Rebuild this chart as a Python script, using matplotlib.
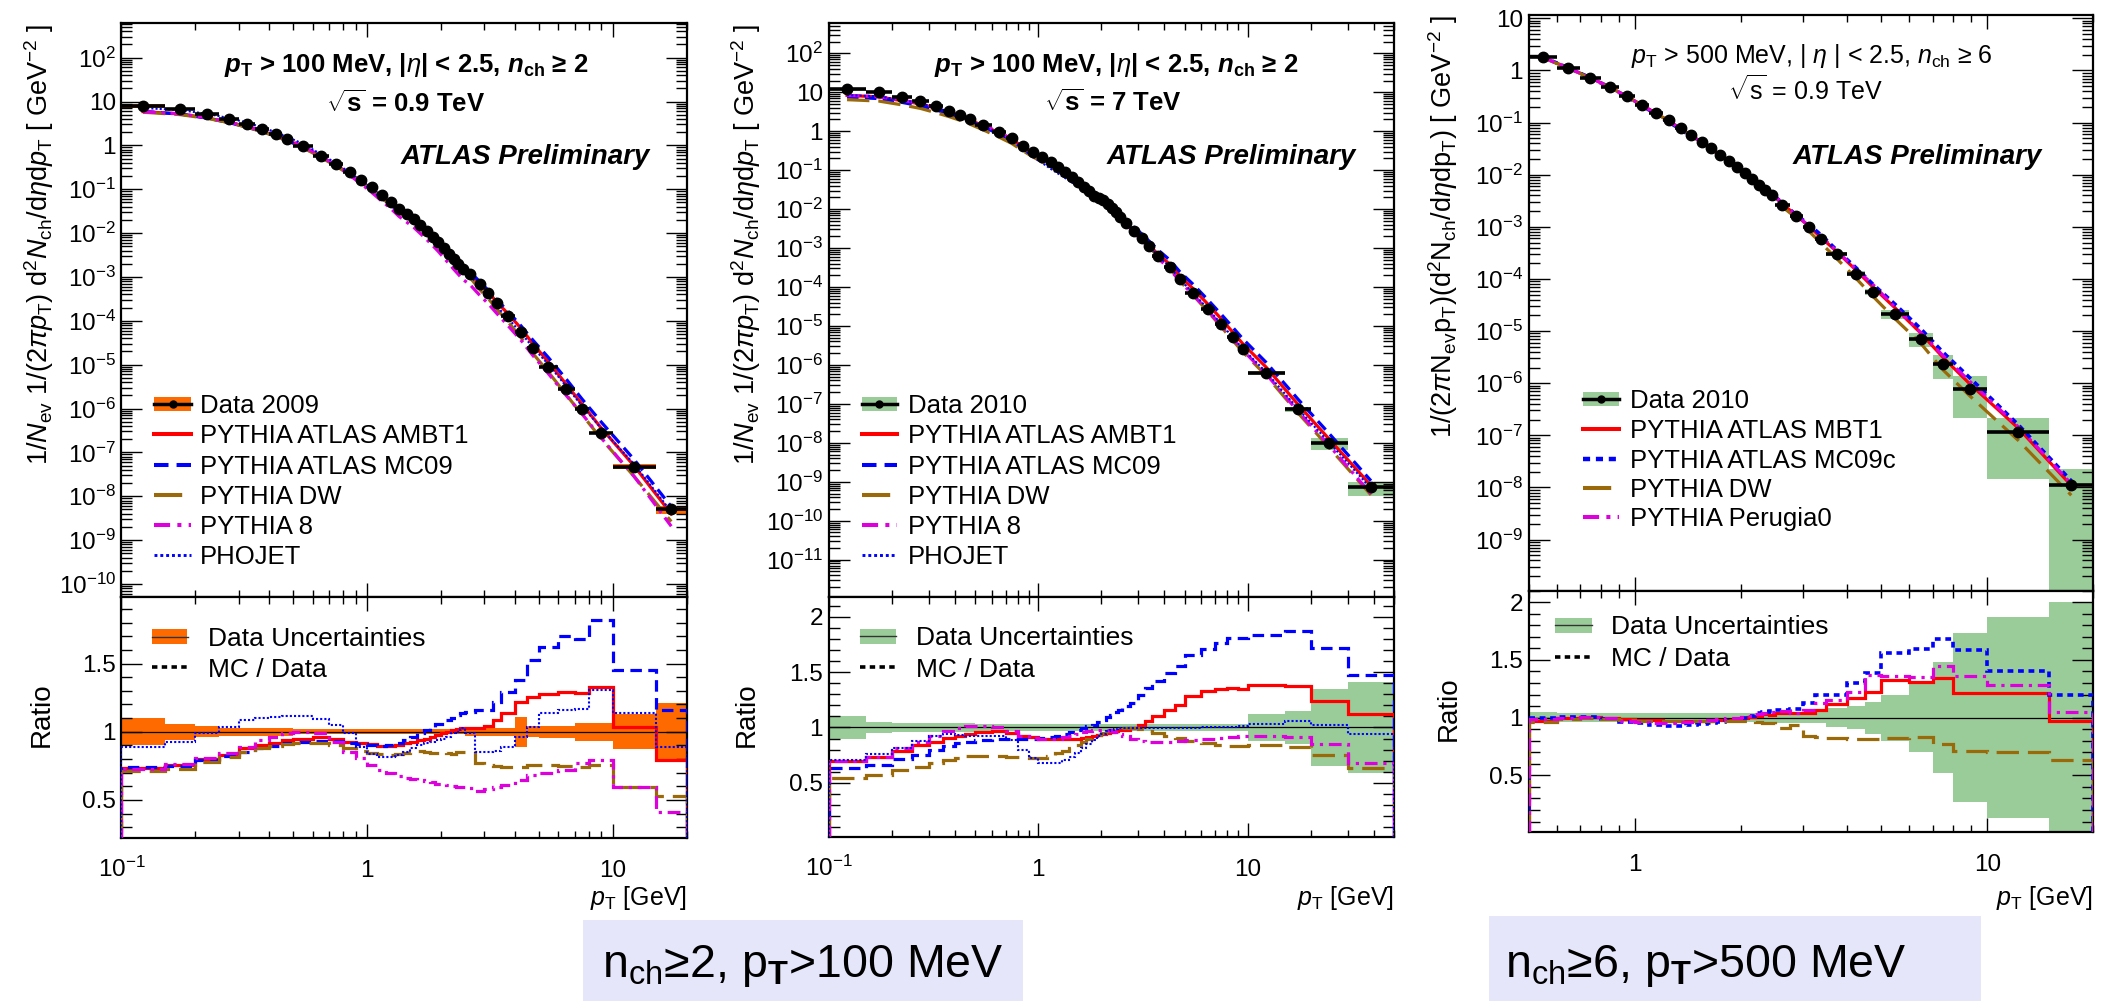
import numpy as np
import matplotlib
matplotlib.use('Agg')
import matplotlib.pyplot as plt
from matplotlib.lines import Line2D
from matplotlib.patches import Rectangle
from matplotlib.ticker import LogLocator, FixedLocator, MultipleLocator, FuncFormatter, NullFormatter

W, H = 2101, 1001

plt.rcParams['font.family'] = ['Liberation Sans', 'DejaVu Sans']
plt.rcParams['mathtext.fontset'] = 'custom'
plt.rcParams['mathtext.rm'] = 'Liberation Sans'
plt.rcParams['mathtext.it'] = 'Liberation Sans:italic'
plt.rcParams['mathtext.bf'] = 'Liberation Sans:bold'
plt.rcParams['mathtext.bfit'] = 'Liberation Sans:bold:italic'
plt.rcParams['mathtext.sf'] = 'Liberation Sans'

# ---------------- pT bin edges [GeV] ----------------
edges_100 = [0.10, 0.15, 0.20, 0.25, 0.30, 0.35, 0.40, 0.45, 0.50,
             0.6, 0.7, 0.8, 0.9, 1.0, 1.1, 1.2, 1.3, 1.4, 1.5, 1.6, 1.7,
             1.8, 1.9, 2.0, 2.1, 2.2, 2.3, 2.4, 2.5,
             2.75, 3.0, 3.25, 3.5, 4.0, 4.5, 5.0, 6.0, 7.0, 8.0, 10.0, 15.0, 20.0]
edges_7tev = [0.10, 0.15, 0.20, 0.25, 0.30, 0.35, 0.40, 0.45, 0.50,
              0.6, 0.7, 0.8, 0.9, 1.0, 1.1, 1.2, 1.3, 1.4, 1.5, 1.6, 1.7,
              1.8, 1.9, 2.0, 2.1, 2.2, 2.3, 2.4, 2.5,
              2.75, 3.0, 3.25, 3.5, 4.0, 4.5, 5.0, 6.0, 7.0, 8.0, 9.0, 10.0,
              15.0, 20.0, 30.0, 50.0]
edges_500 = [0.5, 0.6, 0.7, 0.8, 0.9, 1.0, 1.1, 1.2, 1.3, 1.4, 1.5, 1.6, 1.7,
             1.8, 1.9, 2.0, 2.1, 2.2, 2.3, 2.4, 2.5,
             2.75, 3.0, 3.25, 3.5, 4.0, 4.5, 5.0, 6.0, 7.0, 8.0, 10.0, 15.0, 20.0]

# ---------------- 0.9 TeV, pT > 100 MeV, nch >= 2 ----------------
data_09 = [8.0, 6.9, 5.3, 4.05, 3.06, 2.35, 1.81, 1.39,
           0.98, 0.58, 0.374, 0.245, 0.164, 0.110, 0.0745, 0.0525, 0.0357, 0.027,
           0.0207, 0.0151, 0.0112, 0.0083, 0.0062, 0.00452, 0.00335, 0.00253,
           0.00195, 0.0015,
           0.00115, 6.8e-4, 4.2e-4, 2.5e-4, 1.29e-4, 5.5e-5, 2.35e-5, 8.95e-6,
           2.73e-6, 1.0e-6, 2.79e-7, 4.7e-8, 5.0e-9]
unc_09 = [0.10, 0.06, 0.04, 0.03, 0.03, 0.03, 0.03, 0.03,
          0.02, 0.02, 0.02, 0.02, 0.02, 0.02, 0.02, 0.02, 0.02, 0.02,
          0.02, 0.02, 0.02, 0.02, 0.02, 0.02, 0.02, 0.02, 0.02, 0.02,
          0.03, 0.03, 0.03, 0.03, 0.03, 0.11, 0.04, 0.045, 0.045, 0.065, 0.065,
          0.13, 0.21]
ambt1_09 = [0.736, 0.756, 0.80, 0.83, 0.878, 0.90, 0.92, 0.94,
            0.95, 0.96, 0.944, 0.927, 0.915, 0.907, 0.895, 0.895, 0.902, 0.915,
            0.927, 0.94, 0.95, 0.963, 0.975, 0.988, 1.0, 1.01, 1.02, 1.024,
            1.024, 1.03, 1.04, 1.085, 1.134, 1.22, 1.256, 1.28, 1.293, 1.286, 1.33,
            1.037, 0.79]
mc09_09 = [0.743, 0.75, 0.79, 0.82, 0.853, 0.878, 0.897, 0.915,
           0.927, 0.934, 0.934, 0.92, 0.91, 0.90, 0.895, 0.902, 0.92, 0.94,
           0.963, 0.988, 1.012, 1.037, 1.06, 1.06, 1.085, 1.10, 1.12, 1.14,
           1.147, 1.16, 1.16, 1.22, 1.29, 1.38, 1.525, 1.62, 1.70, 1.68, 1.82,
           1.45, 1.16]
dw_09 = [0.714, 0.73, 0.78, 0.817, 0.853, 0.878, 0.895, 0.907,
         0.915, 0.92, 0.902, 0.878, 0.86, 0.846, 0.836, 0.83, 0.836, 0.846,
         0.853, 0.86, 0.853, 0.846, 0.846, 0.853, 0.846, 0.836, 0.853, 0.853,
         0.853, 0.768, 0.756, 0.75, 0.743, 0.743, 0.756, 0.756, 0.75, 0.743, 0.756,
         0.597, 0.53]
py8_09 = [0.73, 0.763, 0.805, 0.846, 0.89, 0.94, 0.963, 0.988,
          1.0, 0.988, 0.927, 0.853, 0.805, 0.756, 0.72, 0.695, 0.675, 0.663,
          0.653, 0.646, 0.639, 0.63, 0.62, 0.614, 0.61, 0.602, 0.597, 0.592,
          0.585, 0.568, 0.578, 0.592, 0.61, 0.646, 0.68, 0.695, 0.72, 0.768, 0.79,
          0.597, 0.414]
phojet_09 = [0.89, 0.927, 0.988, 1.037, 1.085, 1.098, 1.105, 1.115,
             1.115, 1.09, 1.05, 0.988, 0.89, 0.84, 0.817, 0.817, 0.83, 0.853,
             0.878, 0.90, 0.915, 0.927, 0.94, 0.95, 0.963, 0.988, 1.0, 1.024,
             0.988, 0.853, 0.853, 0.86, 0.89, 0.963, 1.037, 1.134, 1.16, 1.17, 1.305,
             1.134, 0.89]

# ---------------- 7 TeV, pT > 100 MeV, nch >= 2 ----------------
data_7 = [11.9, 10.4, 7.7, 5.96, 4.43, 3.37, 2.61, 2.02,
          1.44, 0.955, 0.656, 0.425, 0.298, 0.221, 0.159, 0.118, 0.088, 0.0655,
          0.0497, 0.0377, 0.0292, 0.0221, 0.0194, 0.0171, 0.0135, 0.0105,
          0.00828, 0.00638,
          0.00448, 0.00279, 0.00178, 0.00113, 6.25e-4, 3.33e-4, 1.58e-4, 7.15e-5,
          2.68e-5, 1.12e-5, 5.1e-6, 2.57e-6, 6.3e-7, 7.2e-8, 1.0e-8, 7.2e-10]
unc_7 = [0.10, 0.053, 0.04, 0.04, 0.04, 0.04, 0.04, 0.04,
         0.03, 0.03, 0.03, 0.03, 0.03, 0.03, 0.03, 0.03, 0.03, 0.03,
         0.03, 0.03, 0.03, 0.03, 0.03, 0.03, 0.03, 0.03, 0.03, 0.03,
         0.03, 0.03, 0.03, 0.03, 0.03, 0.03, 0.03, 0.03, 0.03, 0.03, 0.03, 0.03,
         0.12, 0.15, 0.35, 0.41]
ambt1_7 = [0.70, 0.73, 0.79, 0.843, 0.873, 0.904, 0.925, 0.943,
           0.958, 0.964, 0.949, 0.925, 0.91, 0.898, 0.895, 0.895, 0.895, 0.898,
           0.90, 0.904, 0.91, 0.919, 0.928, 0.94, 0.949, 0.958, 0.964, 0.973,
           0.979, 0.994, 1.024, 1.054, 1.10, 1.16, 1.205, 1.28, 1.325, 1.347,
           1.356, 1.347, 1.386, 1.37, 1.235, 1.12]
mc09_7 = [0.632, 0.662, 0.714, 0.753, 0.80, 0.834, 0.858, 0.873,
          0.888, 0.898, 0.898, 0.895, 0.895, 0.904, 0.913, 0.925, 0.94, 0.955,
          0.973, 0.994, 1.01, 1.024, 1.045, 1.069, 1.093, 1.115, 1.136, 1.16,
          1.19, 1.22, 1.295, 1.356, 1.416, 1.49, 1.558, 1.657, 1.708, 1.762,
          1.808, 1.808, 1.838, 1.868, 1.717, 1.476]
dw_7 = [0.542, 0.572, 0.617, 0.647, 0.678, 0.708, 0.729, 0.744,
        0.747, 0.747, 0.738, 0.732, 0.723, 0.729, 0.744, 0.768, 0.792, 0.819,
        0.843, 0.873, 0.895, 0.919, 0.934, 0.949, 0.964, 0.973, 0.985, 0.991,
        0.994, 0.994, 0.985, 0.97, 0.949, 0.925, 0.904, 0.879, 0.858, 0.843,
        0.834, 0.834, 0.843, 0.828, 0.753, 0.638]
py8_7 = [0.70, 0.738, 0.813, 0.873, 0.925, 0.964, 0.994, 1.01,
         1.015, 1.0, 0.964, 0.925, 0.904, 0.895, 0.895, 0.898, 0.91, 0.925,
         0.94, 0.955, 0.964, 0.973, 0.979, 0.979, 0.973, 0.964, 0.955, 0.943,
         0.919, 0.895, 0.879, 0.873, 0.867, 0.873, 0.882, 0.888, 0.898, 0.904,
         0.913, 0.919, 0.925, 0.913, 0.852, 0.678]
phojet_7 = [0.708, 0.759, 0.819, 0.882, 0.925, 0.94, 0.934, 0.925,
            0.925, 0.919, 0.888, 0.80, 0.723, 0.684, 0.678, 0.684, 0.708, 0.738,
            0.774, 0.813, 0.852, 0.888, 0.919, 0.943, 0.964, 0.979, 0.988, 0.994,
            0.994, 0.994, 0.994, 0.994, 0.994, 0.994, 0.994, 0.994, 1.0, 1.0,
            1.003, 1.009, 1.033, 1.054, 1.018, 0.943]

# ---------------- 0.9 TeV, pT > 500 MeV, nch >= 6 ----------------
data_500 = [1.83, 1.12, 0.721, 0.484, 0.325, 0.221, 0.155, 0.110, 0.0798, 0.0577,
            0.0430, 0.0319, 0.0241, 0.0182, 0.0140, 0.0107, 0.0082, 0.00648,
            0.00519, 0.00416,
            0.00267, 0.00159, 9.8e-4, 5.9e-4, 3.0e-4, 1.27e-4, 5.7e-5, 2.1e-5,
            6.95e-6, 2.36e-6, 7.9e-7, 1.14e-7, 1.12e-8]
unc_500 = [0.05, 0.04, 0.04, 0.04, 0.04, 0.04, 0.04, 0.04, 0.04, 0.04,
           0.04, 0.04, 0.04, 0.04, 0.04, 0.04, 0.04, 0.04, 0.04, 0.04,
           0.05, 0.05, 0.05, 0.05, 0.08, 0.10, 0.14, 0.20, 0.30, 0.48, 0.73,
           0.87, 1.0]
mbt1_500 = [0.974, 1.0, 1.009, 0.994, 0.986, 0.98, 0.98, 0.974, 0.971, 0.971,
            0.974, 0.974, 0.98, 0.98, 0.986, 0.994, 1.003, 1.014, 1.029, 1.02,
            1.038, 1.043, 1.043, 1.066, 1.118, 1.168, 1.225, 1.327, 1.312, 1.341,
            1.211, 1.211, 0.974]
mc09c_500 = [0.994, 1.003, 1.003, 0.986, 0.965, 0.951, 0.936, 0.928, 0.928, 0.936,
             0.945, 0.957, 0.965, 0.974, 0.98, 0.994, 1.014, 1.038, 1.052, 1.058,
             1.066, 1.072, 1.124, 1.197, 1.197, 1.298, 1.384, 1.558, 1.592, 1.679,
             1.587, 1.405, 1.197]
dw_500 = [0.965, 0.986, 0.994, 0.986, 0.98, 0.974, 0.974, 0.971, 0.971, 0.971,
          0.971, 0.971, 0.971, 0.971, 0.971, 0.971, 0.968, 0.965, 0.957, 0.951,
          0.908, 0.936, 0.841, 0.829, 0.821, 0.812, 0.812, 0.821, 0.835, 0.769,
          0.714, 0.705, 0.633]
perugia0_500 = [0.986, 1.0, 1.003, 0.994, 0.974, 0.96, 0.957, 0.957, 0.96, 0.965,
                0.974, 0.98, 0.986, 0.994, 1.0, 1.009, 1.014, 1.029, 1.038, 1.052,
                1.058, 1.043, 1.066, 1.124, 1.153, 1.225, 1.37, 1.361, 1.35, 1.448,
                1.361, 1.283, 1.052]

ORANGE = '#FF6A00'
GREEN = '#99CC99'
RED = '#FF0000'
BLUE = '#0000FF'
BROWN = '#9A6A0A'
MAGENTA = '#DD00DD'

STY = {
    'solid': dict(color=RED, ls='-', lw=2.3),
    'dash': dict(color=BLUE, ls=(0, (3.6, 2.0)), lw=2.3),
    'long': dict(color=BROWN, ls=(0, (7.0, 2.8)), lw=2.3),
    'dashdot': dict(color=MAGENTA, ls=(0, (4.0, 1.8, 1.0, 1.8)), lw=2.3),
    'dotted': dict(color=BLUE, ls=(0, (1.0, 1.0)), lw=1.5),
    'shortdash': dict(color=BLUE, ls=(0, (1.6, 1.3)), lw=2.6),
}

TICK_FS = 17.5
LEG_FS = 18.5


def fx(x):
    return x / W


def fy(y):
    return 1 - y / H


def pow10_label(v, pos):
    e = int(round(np.log10(v)))
    if e == 0:
        return '1'
    if e == 1:
        return '10'
    return r'$10^{%d}$' % e


def decades(lo, hi):
    # only the powers of ten that lie inside [lo, hi]
    return 10.0 ** np.arange(np.ceil(np.log10(lo) - 1e-9), np.floor(np.log10(hi) + 1e-9) + 1)


def ftext(fig, x, y, s, **kw):
    kw.setdefault('va', 'baseline')
    return fig.text(fx(x), fy(y), s, **kw)


def leg_line(fig, x0, x1, y, **kw):
    fig.add_artist(Line2D([fx(x0), fx(x1)], [fy(y), fy(y)],
                          transform=fig.transFigure, **kw))


def leg_box(fig, x0, x1, y, h, color):
    fig.add_artist(Rectangle((fx(x0), fy(y + h / 2)), (x1 - x0) / W, h / H,
                             transform=fig.transFigure, color=color, lw=0))


def legend(fig, entries, hx0, hx1, tx, rows, band, fs):
    cap = 0.716 * fs / 0.72
    for (kind, label), y in zip(entries, rows):
        if kind == 'data':
            leg_box(fig, hx0, hx1, y, 14, band)
            leg_line(fig, hx0, hx1, y, color='black', lw=2.5)
            fig.add_artist(Line2D([fx((hx0 + hx1) / 2)], [fy(y)], marker='o',
                                  ms=5, color='black', transform=fig.transFigure))
        elif kind == 'band':
            leg_box(fig, hx0, hx1, y, 15, band)
            leg_line(fig, hx0, hx1, y, color='#333333', lw=1.0)
        elif kind == 'ratio':
            leg_line(fig, hx0, hx1, y, color='black', lw=2.6, ls=(0, (1.5, 1.2)))
        else:
            st = dict(STY[kind])
            st['lw'] = st['lw'] + 0.6
            leg_line(fig, hx0, hx1, y, **st)
        ftext(fig, tx, y + cap / 2, label, fontsize=fs)


def style_axis(a, xlim):
    a.set_xscale('log')
    a.set_xlim(xlim)
    a.xaxis.set_major_locator(FixedLocator(decades(*xlim)))
    a.xaxis.set_minor_locator(LogLocator(base=10, subs=np.arange(2, 10), numticks=30))
    a.xaxis.set_minor_formatter(NullFormatter())
    a.tick_params(which='both', direction='in', top=True, right=True,
                  labelsize=TICK_FS)
    a.tick_params(axis='y', which='major', length=15, width=1.0, pad=4)
    a.tick_params(axis='y', which='minor', length=8, width=1.0)
    a.tick_params(axis='x', which='major', length=10, width=1.0)
    a.tick_params(axis='x', which='minor', length=5, width=1.0)
    for s in a.spines.values():
        s.set_linewidth(1.6)


def panel(fig, box, edges, data, unc, models, band, xlim, ylim, rlim):
    l, r, t, m, b = box
    ax = fig.add_axes([fx(l), fy(m), (r - l) / W, (m - t) / H])
    rx = fig.add_axes([fx(l), fy(b), (r - l) / W, (b - m) / H])

    edges = np.asarray(edges)
    data = np.asarray(data)
    unc = np.asarray(unc)
    centers = np.sqrt(edges[:-1] * edges[1:])

    # spectrum: systematic boxes, generator curves, data points
    ax.stairs(data * (1 + unc), edges,
              baseline=np.clip(data * (1 - unc), 1e-30, None),
              fill=True, color=band, lw=0, zorder=1)
    for ratio, kind in models:
        ratio = np.asarray(ratio)
        ax.plot(centers, data * ratio, zorder=2, **STY[kind])
    ax.errorbar(centers, data, xerr=[centers - edges[:-1], edges[1:] - centers],
                fmt='o', color='black', ms=7.5, elinewidth=2.6, capsize=0, zorder=4)

    # ratio MC / data
    rx.stairs(1 + unc, edges, baseline=1 - unc, fill=True, color=band, lw=0,
              zorder=1)
    rx.axhline(1.0, color='black', lw=0.9, zorder=2)
    for ratio, kind in models:
        rx.stairs(ratio, edges, zorder=3, **STY[kind])

    style_axis(ax, xlim)
    style_axis(rx, xlim)

    ax.set_yscale('log')
    ax.set_ylim(ylim)
    ax.xaxis.set_major_formatter(NullFormatter())
    ax.yaxis.set_major_locator(FixedLocator(decades(*ylim)))
    ax.yaxis.set_minor_locator(LogLocator(base=10, subs=np.arange(2, 10), numticks=30))
    ax.yaxis.set_major_formatter(FuncFormatter(pow10_label))
    ax.yaxis.set_minor_formatter(NullFormatter())

    rx.set_ylim(rlim)
    rx.xaxis.set_major_formatter(FuncFormatter(pow10_label))
    rmaj = [v for v in (0.5, 1.0, 1.5, 2.0) if rlim[0] < v < rlim[1]]
    rx.yaxis.set_major_locator(FixedLocator(rmaj))
    rx.yaxis.set_minor_locator(MultipleLocator(0.1))
    rx.yaxis.set_major_formatter(FuncFormatter(lambda v, p: '%g' % v))
    rx.tick_params(axis='x', which='major', pad=28)
    for tk in rx.xaxis.get_major_ticks():
        tk.label1.set_verticalalignment('baseline')
    return ax, rx


fig = plt.figure(figsize=(W / 100, H / 100), dpi=100)

P1 = (121.4, 686.6, 23.3, 596.7, 837.7)
P2 = (828.6, 1394.2, 23.3, 596.7, 836.7)
P3 = (1528.6, 2093.3, 15.0, 590.7, 831.7)

panel(fig, P1, edges_100, data_09, unc_09,
      [(ambt1_09, 'solid'), (mc09_09, 'dash'), (dw_09, 'long'),
       (py8_09, 'dashdot'), (phojet_09, 'dotted')],
      ORANGE, (0.1, 20), (10 ** -10.29, 10 ** 2.784), (0.223, 1.99))
panel(fig, P2, edges_7tev, data_7, unc_7,
      [(ambt1_7, 'solid'), (mc09_7, 'dash'), (dw_7, 'long'),
       (py8_7, 'dashdot'), (phojet_7, 'dotted')],
      GREEN, (0.1, 50), (10 ** -11.95, 10 ** 2.77), (0.0145, 2.18))
panel(fig, P3, edges_500, data_500, unc_500,
      [(mbt1_500, 'solid'), (mc09c_500, 'shortdash'), (dw_500, 'long'),
       (perugia0_500, 'dashdot')],
      GREEN, (0.5, 20), (10 ** -9.98, 10 ** 1.064), (0.012, 2.10))

# legends
leg100 = [('data', 'Data 2009'), ('solid', 'PYTHIA ATLAS AMBT1'),
          ('dash', 'PYTHIA ATLAS MC09'), ('long', 'PYTHIA DW'),
          ('dashdot', 'PYTHIA 8'), ('dotted', 'PHOJET')]
rows6 = [404, 434, 464.5, 495, 525, 555]
legend(fig, leg100, 154, 191, 200, rows6, ORANGE, LEG_FS)
leg7 = [('data', 'Data 2010')] + leg100[1:]
legend(fig, leg7, 861.6, 897.3, 907.6, rows6, GREEN, LEG_FS)
leg500 = [('data', 'Data 2010'), ('solid', 'PYTHIA ATLAS MBT1'),
          ('shortdash', 'PYTHIA ATLAS MC09c'), ('long', 'PYTHIA DW'),
          ('dashdot', 'PYTHIA Perugia0')]
legend(fig, leg500, 1583, 1618.8, 1630, [399.3, 429.3, 459.3, 488.3, 517.3],
       GREEN, LEG_FS)

rleg = [('band', 'Data Uncertainties'), ('ratio', 'MC / Data')]
legend(fig, rleg, 151.8, 187.5, 207.6, [636.7, 667.3], ORANGE, 19)
legend(fig, rleg, 859.8, 895.5, 915.6, [636.0, 667.3], GREEN, 19)
legend(fig, rleg, 1555.4, 1592.0, 1611.0, [625.0, 656.7], GREEN, 19)

# selection labels
title_100 = (r'$\mathbfit{p}_{\mathbf{T}}$ > 100 MeV, |$\eta$| < 2.5, '
             r'$\mathbfit{n}_{\mathbf{ch}}$ ≥ 2')
ftext(fig, 406, 72, title_100, fontsize=18.5, fontweight='bold', ha='center')
ftext(fig, 406, 112, r'$\sqrt{\mathbf{s}}$ = 0.9 TeV', fontsize=18.5,
      fontweight='bold', ha='center')
ftext(fig, 1116.3, 72, title_100, fontsize=18.5, fontweight='bold', ha='center')
ftext(fig, 1113, 111, r'$\sqrt{\mathbf{s}}$ = 7 TeV', fontsize=18.5,
      fontweight='bold', ha='center')
ftext(fig, 1811.8, 63,
      r'$p_{\rm T}$ > 500 MeV, | $\eta$ | < 2.5, $n_{\rm ch}$ ≥ 6',
      fontsize=18, ha='center')
ftext(fig, 1805, 100, r'$\sqrt{\rm s}$ = 0.9 TeV', fontsize=18, ha='center')
for xr in (649.5, 1356, 2042):
    ftext(fig, xr, 164, 'ATLAS Preliminary', fontsize=20, fontweight='bold',
          fontstyle='italic', ha='right')

# axis titles
ylab_100 = (r'1/$N_{\rm ev}$ 1/(2$\pi p_{\rm T}$) d$^{2}N_{\rm ch}$/d$\eta$d$p_{\rm T}$'
            r' [ GeV$^{-2}$ ]')
ylab_500 = (r'1/(2$\pi$N$_{\rm ev}$p$_{\rm T}$)(d$^{2}$N$_{\rm ch}$/d$\eta$dp$_{\rm T}$)'
            r' [ GeV$^{-2}$ ]')
fig.text(fx(39), fy(23.3), ylab_100, rotation=90, ha='center', va='top', fontsize=19.5)
fig.text(fx(746), fy(23.3), ylab_100, rotation=90, ha='center', va='top', fontsize=19.5)
fig.text(fx(1443), fy(15), ylab_500, rotation=90, ha='center', va='top', fontsize=19.5)
for xc, yc in ((41.5, 715), (747, 715), (1449, 709)):
    fig.text(fx(xc), fy(yc), 'Ratio', rotation=90, ha='center', va='center',
             fontsize=20)
for xr in (686.6, 1394.2, 2093.3):
    ftext(fig, xr, 905, r'$p_{\rm T}$ [GeV]', fontsize=18, ha='right')

# selection boxes under the plots
for (x0, y0, x1, y1), tx, txt in (
        ((583, 920, 1023, 1001), 602, r'n$_{\rm ch}$≥2, p$_{\mathbf{T}}$>100 MeV'),
        ((1489, 916, 1981, 1001), 1505, r'n$_{\rm ch}$≥6, p$_{\mathbf{T}}$>500 MeV')):
    fig.add_artist(Rectangle((fx(x0), fy(y1)), (x1 - x0) / W, (y1 - y0) / H,
                             transform=fig.transFigure, color='#E6E6FA', lw=0,
                             zorder=0))
    ftext(fig, tx, 977, txt, fontsize=33.5)

fig.savefig('out.png', dpi=100)
